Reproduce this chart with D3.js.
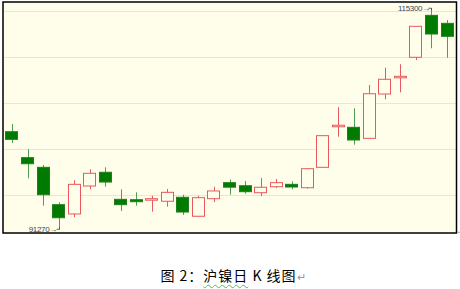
<!DOCTYPE html>
<html>
<head>
<meta charset="utf-8">
<script src="https://cdn.jsdelivr.net/npm/d3@7"></script>
<style>
    body { margin: 0; background: #fff; width: 460px; height: 289px; overflow: hidden; position: relative; }
    #caption { position: absolute; left: 3px; top: 266px; width: 460px; text-align: center;
        font: 14px "Noto Sans CJK SC", sans-serif; color: #000; line-height: 18px; letter-spacing: 1px; }
    #caption .wavy { text-decoration: underline wavy #5cb85c; text-decoration-thickness: 1px; text-underline-offset: 3px; }
    #caption .mark { color: #999; font-size: 11px; letter-spacing: 0; }
</style>
</head>
<body>
<svg id="chart" width="460" height="240"></svg>
<div id="caption">图 2：<span class="wavy">沪镍日</span> K 线图<span class="mark">↵</span></div>
<script>
// daily candles
const opens  = [101880, 99060, 98010, 93950, 92940, 95980, 97470, 94530, 94490, 94560, 94320, 94750, 92690, 94600, 96340,
                96010, 95250, 95900, 96160, 95790, 98010, 102500, 102360, 101160, 105980, 107860, 109970, 114530, 113660];
const highs  = [102720, 100000, 98260, 94210, 96600, 97790, 98010, 95620, 95290, 94920, 95650, 95030, 94920, 95900, 96690,
                96520, 96850, 96740, 96490, 97940, 101470, 104530, 104420, 106960, 108840, 109210, 113370, 115300, 114020];
const lows   = [100650, 96820, 93840, 91270, 92580, 95620, 95900, 93260, 93840, 93190, 93730, 92830, 92640, 94240, 95030,
                95140, 94890, 95760, 95620, 95690, 97990, 101340, 100470, 101100, 105400, 106160, 109670, 110950, 109920];
const closes = [101050, 98400, 95030, 92530, 96160, 97360, 96410, 93950, 94270, 94600, 95290, 93150, 94710, 95440, 95850,
                95360, 95840, 96340, 95870, 97860, 101450, 102580, 100980, 106010, 107580, 107900, 113340, 112500, 112250];

const gridValues = [95000, 100000, 105000, 110000, 115000];
const priceDomain = [90870, 115980];

const svg = d3.select("#chart");

const margin = {left: 3, top: 2, right: 3.5, bottom: 7}; // frame inside the svg
const width = 460, height = 240;

const bg = "#fefeeb";
const upColor = "#e8585c";
const downFill = "#007a00";
const downWick = "#4f9f4f";

const candles = opens.map((o, i) => ({
    i: i,
    open: o,
    high: highs[i],
    low: lows[i],
    close: closes[i],
}));

const x = d3.scaleBand()
    .domain(candles.map(d => d.i))
    .range([margin.left + 1.2, width - margin.right - 1.7])
    .paddingInner(0.16)
    .paddingOuter(0.08);

const y = d3.scaleLinear()
    .domain(priceDomain)
    .range([height - margin.bottom, margin.top]);

// plot background
svg.append("rect")
    .attr("x", margin.left)
    .attr("y", margin.top)
    .attr("width", width - margin.left - margin.right)
    .attr("height", height - margin.top - margin.bottom)
    .attr("fill", bg);

// horizontal grid
svg.append("g")
    .selectAll("line")
    .data(gridValues)
    .join("line")
    .attr("x1", margin.left)
    .attr("x2", width - margin.right)
    .attr("y1", d => Math.round(y(d)) + 0.5)
    .attr("y2", d => Math.round(y(d)) + 0.5)
    .attr("stroke", "#e7e7d3")
    .attr("stroke-width", 1);

const cx = d => x(d.i) + x.bandwidth() / 2;
const isUp = d => d.close >= d.open;

const g = svg.append("g");

// wicks
g.selectAll("line.wick")
    .data(candles)
    .join("line")
    .attr("class", "wick")
    .attr("x1", d => Math.round(cx(d)) + 0.5)
    .attr("x2", d => Math.round(cx(d)) + 0.5)
    .attr("y1", d => y(d.high))
    .attr("y2", d => y(d.low))
    .attr("stroke", d => isUp(d) ? upColor : downWick)
    .attr("stroke-width", 1);

// bodies
g.selectAll("rect.body")
    .data(candles)
    .join("rect")
    .attr("class", "body")
    .attr("x", d => Math.round(x(d.i)) + 0.5)
    .attr("width", Math.round(x.bandwidth()) - 1)
    .attr("y", d => y(Math.max(d.open, d.close)))
    .attr("height", d => Math.max(1.5, Math.abs(y(d.open) - y(d.close))))
    .attr("fill", d => isUp(d) ? bg : downFill)
    .attr("stroke", d => isUp(d) ? upColor : "#1f7f1f")
    .attr("stroke-width", 1);

// extreme labels
const lowest = candles.reduce((a, b) => b.low < a.low ? b : a);
const highest = candles.reduce((a, b) => b.high > a.high ? b : a);

const labels = [
    {d: lowest, value: lowest.low},
    {d: highest, value: highest.high},
];

const lab = svg.append("g")
    .selectAll("g")
    .data(labels)
    .join("g");

lab.append("text")
    .attr("x", l => cx(l.d) - 1.5)
    .attr("y", l => y(l.value) + 3)
    .attr("text-anchor", "end")
    .attr("font-family", "Liberation Sans, Arial, sans-serif")
    .attr("font-size", 8)
    .attr("letter-spacing", -0.3)
    .attr("fill", "#38485a")
    .text(l => l.value + "\u2192");

lab.append("path")
    .attr("d", l => {
        const px = Math.round(cx(l.d)) + 0.5;
        const py = y(l.value);
        return `M${px - 3},${py} H${px} V${py + (l.value === highest.high ? 2 : -2)}`;
    })
    .attr("fill", "none")
    .attr("stroke", "#38485a")
    .attr("stroke-width", 0.8);

// frame
svg.append("rect")
    .attr("x", margin.left)
    .attr("y", margin.top)
    .attr("width", width - margin.left - margin.right)
    .attr("height", height - margin.top - margin.bottom)
    .attr("fill", "none")
    .attr("stroke", "#000")
    .attr("stroke-width", 1.5);

// word paragraph mark next to the frame corner
svg.append("text")
    .attr("x", width - margin.right)
    .attr("y", height - margin.bottom + 1)
    .attr("font-size", 5)
    .attr("fill", "#999")
    .text("\u21b5");
</script>
</body>
</html>
